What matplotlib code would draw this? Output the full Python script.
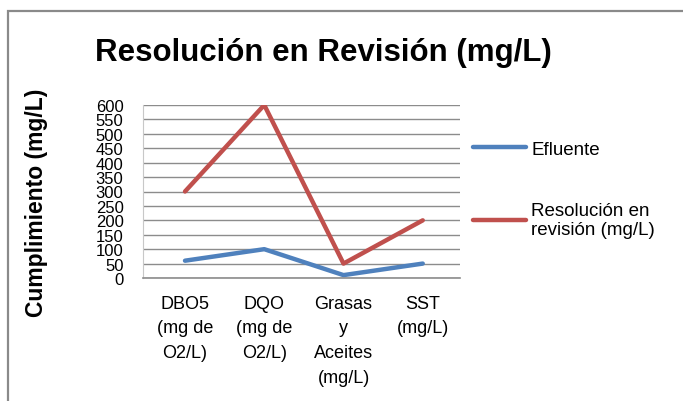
import matplotlib
matplotlib.use('Agg')
import matplotlib.pyplot as plt
from matplotlib.patches import Rectangle

# -----------------------------------------------------------------------------
# data

categories = ['DBO5\n(mg de\nO2/L)', 'DQO\n(mg de\nO2/L)',
              'Grasas\ny\nAceites\n(mg/L)', 'SST\n(mg/L)']
efluente = [60, 100, 10, 50]
resolucion = [300, 600, 50, 200]
yticks = list(range(0, 601, 50))

blue = '#4F81BD'
red = '#C0504D'
grid_gray = '#8C8C8C'

plt.rcParams['font.family'] = ['Liberation Sans', 'DejaVu Sans']

# -----------------------------------------------------------------------------

fig = plt.figure(figsize=(6.83, 4.02), dpi=100)

# outer chart border (runs off the right and bottom edges)
fig.patches.append(Rectangle((8 / 683, -0.1), 1.2, (402 - 12) / 402 + 0.1,
                             transform=fig.transFigure, fill=False,
                             edgecolor='#8A8A8A', linewidth=1.6))

ax = fig.add_axes([143 / 683, (402 - 279) / 402, 317 / 683, 173 / 402])

x = list(range(len(categories)))
ax.plot(x, efluente, color=blue, linewidth=3.2, label='Efluente',
        solid_capstyle='round')
ax.plot(x, resolucion, color=red, linewidth=3.2,
        label='Resolución en\nrevisión (mg/L)', solid_capstyle='round')

ax.set_xlim(-0.53, 3.47)
ax.set_ylim(0, 600)
ax.set_yticks(yticks)
ax.set_yticklabels([str(v) for v in yticks], fontsize=12)
ax.set_xticks(x)
ax.set_xticklabels(categories, fontsize=13, linespacing=1.6)
ax.tick_params(axis='both', length=0)
ax.tick_params(axis='y', pad=14)
ax.tick_params(axis='x', pad=12)

ax.grid(axis='y', color=grid_gray, linewidth=1)
ax.set_axisbelow(True)
for side in ['top', 'right']:
    ax.spines[side].set_visible(False)
ax.spines['left'].set_color('#C8C8C8')
ax.spines['bottom'].set_color(grid_gray)
ax.spines['bottom'].set_linewidth(1.2)

ax.legend(loc='upper left', bbox_to_anchor=(1.0, 0.87), frameon=False,
          fontsize=13.5, handlelength=2.8, handletextpad=0.3,
          labelspacing=2.35, borderaxespad=0.3)

fig.text(323 / 683, 1 - 53 / 402, 'Resolución en Revisión (mg/L)',
         fontsize=22.5, fontweight='bold', ha='center', va='center')
fig.text(37 / 683, 1 - 203 / 402, 'Cumplimiento (mg/L)', fontsize=16.5,
         fontweight='bold', rotation=90, ha='center', va='center')

fig.savefig('out.png', dpi=100)
